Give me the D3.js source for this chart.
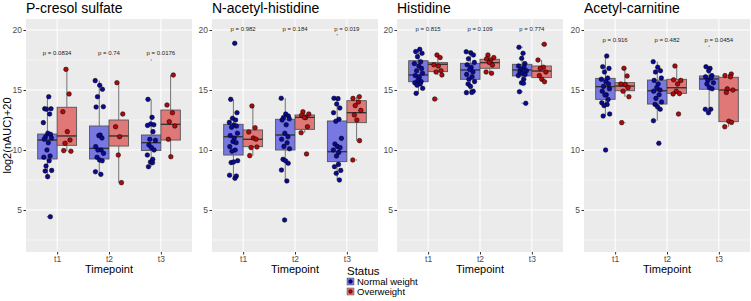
<!DOCTYPE html>
<html>
<head>
<meta charset="utf-8">
<script src="https://cdn.jsdelivr.net/npm/d3@7"></script>
<style>
  body { margin: 0; background: #fff; }
  text { font-family: "Liberation Sans", Arial, sans-serif; }
</style>
</head>
<body>
<svg width="751" height="301"></svg>
<script>
(function () {
    const metabolites = ['P-cresol sulfate', 'N-acetyl-histidine', 'Histidine', 'Acetyl-carnitine'];
    const timepoints = ['t1', 't2', 't3'];
    const statuses = ['Normal weight', 'Overweight'];
    const yTicks = [5, 10, 15, 20];
    const yMinor = [2.5, 7.5, 12.5, 17.5];

    const pValues = [
        ['0.0834', '0.74', '0.0176'],
        ['0.982', '0.184', '0.019'],
        ['0.815', '0.109', '0.774'],
        ['0.916', '0.482', '0.0454']
    ];
    const pLabelY = [18.1, 20.1, 20.1, 19.2];

    // box stats per timepoint: [lower whisker, q1, median, q3, upper whisker]
    const pcresolBoxN = [[7.78, 9.25, 10.83, 11.33, 14.44], [7.97, 9.25, 10.14, 12.0, 15.78], [8.61, 9.96, 10.61, 11.25, 14.22]];
    const pcresolBoxO = [[9.9, 10.39, 11.17, 13.56, 16.72], [7.28, 10.33, 11.17, 12.5, 15.61], [9.44, 10.83, 12.14, 13.33, 16.25]];
    const nacetylBoxN = [[7.64, 9.58, 11.11, 12.14, 14.22], [7.42, 10.0, 11.25, 12.56, 14.31], [7.5, 9.03, 9.86, 12.42, 14.31]];
    const nacetylBoxO = [[9.53, 10.28, 10.89, 11.67, 13.67], [11.44, 11.72, 12.72, 12.92, 13.19], [10.78, 12.28, 13.11, 14.11, 14.44]];
    const histidineBoxN = [[14.72, 15.69, 16.25, 17.44, 18.39], [14.78, 15.89, 16.67, 17.22, 18.19], [15.56, 16.17, 16.67, 17.14, 18.06]];
    const histidineBoxO = [[16.25, 16.53, 17.14, 17.28, 17.92], [16.39, 16.81, 17.28, 17.56, 17.92], [15.69, 16.03, 16.58, 17.0, 17.5]];
    const carnitineBoxN = [[12.83, 14.22, 15.28, 15.97, 17.83], [12.44, 13.83, 14.94, 15.83, 17.36], [13.39, 15.06, 15.92, 16.17, 16.94]];
    const carnitineBoxO = [[14.44, 14.94, 15.33, 15.61, 16.81], [14.67, 14.72, 15.19, 15.89, 17.0], [11.94, 12.36, 15.0, 16.06, 16.33]];

    // individual samples per timepoint
    const pcresolN = [
        [14.44, 13.44, 13.44, 13.4, 13.0, 12.28, 11.4, 11.3, 11.1, 11.0, 10.9, 10.6, 10.0, 9.5, 9.4, 9.1, 8.67, 8.3, 8.25, 7.78, 4.44],
        [15.78, 15.39, 15.06, 14.44, 13.61, 13.58, 11.25, 11.2, 11.0, 10.28, 10.0, 10.0, 9.72, 9.4, 9.17, 9.1, 8.19, 7.97],
        [14.22, 12.72, 12.17, 12.1, 12.05, 11.53, 10.89, 10.8, 10.42, 10.2, 10.0, 9.58, 9.22, 9.0, 8.94, 8.61]
    ];
    const pcresolO = [
        [16.72, 14.67, 13.19, 11.53, 10.83, 10.56, 9.9, 9.95],
        [15.61, 13.0, 11.94, 11.11, 9.58, 7.28],
        [16.25, 13.75, 13.11, 12.36, 12.0, 10.89, 9.44]
    ];
    const nacetylN = [
        [18.89, 14.22, 13.11, 12.64, 12.5, 12.3, 12.08, 12.0, 11.9, 11.4, 11.2, 11.0, 10.7, 10.61, 10.28, 10.0, 9.9, 9.11, 8.95, 9.0, 7.83, 7.9, 7.64],
        [14.31, 13.0, 12.83, 12.7, 12.6, 12.5, 12.1, 11.4, 11.1, 10.9, 10.6, 10.3, 10.1, 9.22, 9.1, 8.9, 8.33, 7.42, 4.17],
        [14.31, 14.28, 13.83, 13.5, 13.11, 12.56, 12.4, 10.97, 10.5, 10.3, 10.2, 10.0, 9.8, 9.5, 8.8, 8.61, 8.3, 8.06, 7.5]
    ];
    const nacetylO = [
        [13.67, 11.86, 11.5, 11.0, 10.9, 10.2, 10.25, 9.53],
        [13.19, 13.0, 12.9, 12.7, 12.72, 11.94, 11.44, 9.67],
        [14.44, 14.3, 14.0, 13.7, 13.3, 12.92, 12.5, 10.78, 9.17]
    ];
    const histidineN = [
        [18.39, 18.2, 18.06, 17.78, 17.36, 17.2, 17.0, 16.8, 16.6, 16.4, 16.2, 16.06, 15.8, 15.7, 15.6, 15.5, 15.4, 15.14, 14.72],
        [18.19, 18.1, 17.92, 17.6, 17.3, 17.1, 16.9, 16.7, 16.5, 16.3, 16.1, 15.9, 15.7, 15.5, 15.3, 14.9, 14.78, 14.8],
        [18.56, 18.06, 17.64, 17.2, 17.0, 16.9, 16.7, 16.6, 16.5, 16.4, 16.3, 16.2, 15.9, 15.6, 15.56, 14.86, 13.89]
    ];
    const histidineO = [
        [17.92, 17.7, 17.1, 17.0, 16.6, 16.5, 16.25, 14.25],
        [17.92, 17.7, 17.6, 17.5, 17.3, 17.08, 16.5, 16.39],
        [18.81, 17.5, 16.9, 16.8, 16.5, 16.2, 15.9, 15.69]
    ];
    const carnitineN = [
        [17.83, 16.94, 16.8, 16.5, 16.0, 15.9, 15.7, 15.5, 15.3, 15.1, 14.9, 14.6, 14.58, 14.2, 13.94, 13.8, 13.7, 13.0, 12.83, 10.0],
        [17.36, 16.9, 16.6, 16.5, 16.0, 15.8, 15.5, 15.2, 15.0, 14.9, 14.6, 14.3, 14.0, 13.8, 13.6, 13.4, 12.44, 10.56],
        [16.94, 16.8, 16.6, 16.2, 16.1, 16.0, 15.8, 15.6, 15.5, 15.2, 15.1, 13.39, 13.39, 13.11]
    ];
    const carnitineO = [
        [16.81, 16.17, 15.5, 15.45, 15.2, 14.9, 14.44, 12.28],
        [17.0, 15.8, 15.85, 15.5, 14.9, 14.7, 14.67, 13.0],
        [16.33, 16.2, 16.1, 15.1, 15.0, 14.8, 12.4, 12.3, 11.94]
    ];
    // outliers that have no visible sample point: [panel, timepoint, status, value]
    const lonelyOutliers = [[0, 2, 0, 17.5], [1, 2, 0, 19.6], [3, 2, 0, 18.64]];

    const jitter = [0.3, -0.6, 0.8, -0.2, 0.5, -0.9, 0.1, 0.7, -0.4, 0.9, -0.7, 0.2, -0.1, 0.6, -0.8, 0.4, -0.3, 0.95, -0.5, 0.05, 0.65, -0.85, 0.35, -0.15];

    const panels = [
        { boxes: [pcresolBoxN, pcresolBoxO], pts: [pcresolN, pcresolO] },
        { boxes: [nacetylBoxN, nacetylBoxO], pts: [nacetylN, nacetylO] },
        { boxes: [histidineBoxN, histidineBoxO], pts: [histidineN, histidineO] },
        { boxes: [carnitineBoxN, carnitineBoxO], pts: [carnitineN, carnitineO] }
    ];

    const boxFill = ['#7878E2', '#E07878'];
    const ptFill = ['#0A0A96', '#B00A0A'];

    const svg = d3.select('svg');
    const plotLeft = [26, 212, 397, 584];
    const plotW = 166;
    const top = 19, bottom = 252;

    const y = d3.scaleLinear().domain([1.5, 20 + 11 / 12]).range([bottom, top]);

    panels.forEach((p, pi) => {
        const left = plotLeft[pi];
        const x = d3.scalePoint().domain(timepoints).range([left, left + plotW]).padding(0.6);
        const step = x.step();
        const bw = 0.375 * step;
        const dodge = s => (s === 0 ? -1 : 1) * bw / 2;

        const g = svg.append('g');

        // panel background and grid
        g.append('rect').attr('x', left).attr('y', top)
            .attr('width', plotW).attr('height', bottom - top).attr('fill', '#EBEBEB');
        g.selectAll('.minor').data(yMinor).enter().append('line')
            .attr('x1', left).attr('x2', left + plotW)
            .attr('y1', d => y(d)).attr('y2', d => y(d))
            .attr('stroke', '#fff').attr('stroke-width', 0.5);
        g.selectAll('.major').data(yTicks).enter().append('line')
            .attr('x1', left).attr('x2', left + plotW)
            .attr('y1', d => y(d)).attr('y2', d => y(d))
            .attr('stroke', '#fff').attr('stroke-width', 1);
        g.selectAll('.vgrid').data(timepoints).enter().append('line')
            .attr('x1', d => x(d)).attr('x2', d => x(d))
            .attr('y1', top).attr('y2', bottom)
            .attr('stroke', '#fff').attr('stroke-width', 1);

        // y axis
        const yAxis = g.append('g').attr('transform', `translate(${left},0)`)
            .call(d3.axisLeft(y).tickValues(yTicks).tickSize(2.5).tickPadding(1.5));
        yAxis.select('.domain').remove();
        yAxis.selectAll('line').attr('stroke', '#333');
        yAxis.selectAll('text').attr('fill', '#4D4D4D').style('font-size', '8.5px')
            .style('font-family', '"Liberation Sans", Arial, sans-serif');

        // x axis
        const xAxis = g.append('g').attr('transform', `translate(0,${bottom})`)
            .call(d3.axisBottom(x).tickSize(2.5).tickPadding(1.5));
        xAxis.select('.domain').remove();
        xAxis.selectAll('line').attr('stroke', '#333');
        xAxis.selectAll('text').attr('fill', '#4D4D4D').style('font-size', '8.5px')
            .style('font-family', '"Liberation Sans", Arial, sans-serif');

        g.append('text').attr('x', left + plotW / 2).attr('y', 273)
            .attr('text-anchor', 'middle').style('font-size', '11px').attr('fill', '#000')
            .text('Timepoint');

        g.append('text').attr('x', left).attr('y', 13)
            .style('font-size', '14px').attr('fill', '#000')
            .text(metabolites[pi]);

        // boxes
        [0, 1].forEach(s => {
            p.boxes[s].forEach((b, ti) => {
                const cx = x(timepoints[ti]) + dodge(s);
                const [lo, q1, med, q3, hi] = b;
                const bg = g.append('g');
                bg.append('line').attr('x1', cx).attr('x2', cx)
                    .attr('y1', y(q3)).attr('y2', y(hi))
                    .attr('stroke', '#666').attr('stroke-width', 0.9);
                bg.append('line').attr('x1', cx).attr('x2', cx)
                    .attr('y1', y(q1)).attr('y2', y(lo))
                    .attr('stroke', '#666').attr('stroke-width', 0.9);
                bg.append('rect').attr('x', cx - bw / 2).attr('width', bw)
                    .attr('y', y(q3)).attr('height', y(q1) - y(q3))
                    .attr('fill', boxFill[s]).attr('stroke', '#555').attr('stroke-width', 0.9);
                bg.append('line').attr('x1', cx - bw / 2).attr('x2', cx + bw / 2)
                    .attr('y1', y(med)).attr('y2', y(med))
                    .attr('stroke', '#333').attr('stroke-width', 1.4);

                // outlier dots at box centre
                const outs = p.pts[s][ti].filter(v => v > hi + 0.01 || v < lo - 0.01);
                bg.selectAll('.out').data(outs).enter().append('circle')
                    .attr('cx', cx).attr('cy', d => y(d)).attr('r', 0.7)
                    .attr('fill', '#888');
            });
        });

        lonelyOutliers.filter(o => o[0] === pi).forEach(o => {
            g.append('circle').attr('cx', x(timepoints[o[1]]) + dodge(o[2]))
                .attr('cy', y(o[3])).attr('r', 0.7).attr('fill', '#888');
        });

        // jittered points
        [0, 1].forEach(s => {
            p.pts[s].forEach((vals, ti) => {
                const cx = x(timepoints[ti]) + dodge(s);
                g.append('g').selectAll('circle').data(vals).enter().append('circle')
                    .attr('cx', (d, i) => cx + jitter[(i + ti * 5 + s * 3) % jitter.length] * 4.5)
                    .attr('cy', d => y(d))
                    .attr('r', 2.3)
                    .attr('fill', ptFill[s])
                    .attr('stroke', '#000').attr('stroke-width', 0.5);
            });
        });

        // p-values
        g.selectAll('.pval').data(pValues[pi]).enter().append('text')
            .attr('x', (d, i) => x(timepoints[i]))
            .attr('y', y(pLabelY[pi]) + 2)
            .attr('text-anchor', 'middle')
            .style('font-size', '6px').attr('fill', '#222')
            .text(d => 'p = ' + d);
    });

    // shared y title
    svg.append('text')
        .attr('transform', `translate(11,${(top + bottom) / 2}) rotate(-90)`)
        .attr('text-anchor', 'middle').style('font-size', '11px')
        .text('log2(nAUC)+20');

    // legend
    const lg = svg.append('g');
    lg.append('text').attr('x', 347).attr('y', 275).style('font-size', '11.5px').text('Status');
    statuses.forEach((st, i) => {
        const ky = 278 + i * 10;
        lg.append('rect').attr('x', 347).attr('y', ky).attr('width', 7).attr('height', 7)
            .attr('fill', boxFill[i]).attr('stroke', '#555').attr('stroke-width', 0.5);
        lg.append('circle').attr('cx', 350.5).attr('cy', ky + 3.5).attr('r', 1.9)
            .attr('fill', ptFill[i]).attr('stroke', '#000').attr('stroke-width', 0.4);
        lg.append('text').attr('x', 357).attr('y', ky + 6.5).style('font-size', '9.5px').text(st);
    });
})();
</script>
</body>
</html>
